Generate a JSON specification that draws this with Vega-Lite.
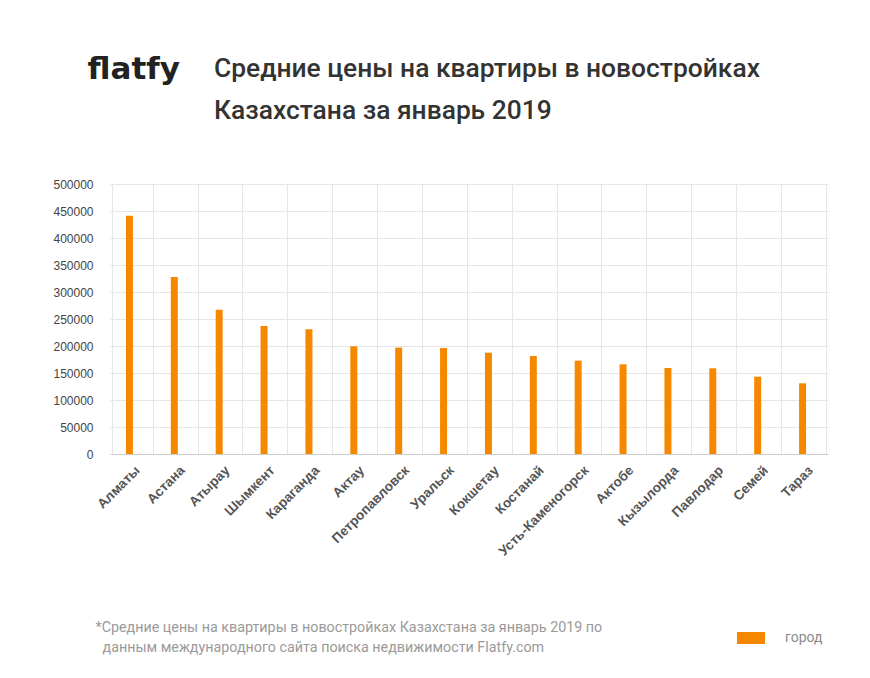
{
  "$schema": "https://vega.github.io/schema/vega-lite/v6.json",
  "width": 718,
  "height": 270,
  "autosize": "none",
  "padding": {"left": 110, "top": 184, "right": 42, "bottom": 224},
  "background": "white",
  "title": {
    "text": ["Средние цены на квартиры в новостройках", "Казахстана за январь 2019"],
    "anchor": "start",
    "dx": 161,
    "dy": 124,
    "offset": 53,
    "font": "Roboto",
    "fontSize": 26.4,
    "fontWeight": 500,
    "color": "#333333",
    "lineHeight": 42
  },
  "data": {
    "values": [
      {"city": "Алматы", "price": 441000},
      {"city": "Астана", "price": 328000},
      {"city": "Атырау", "price": 267000},
      {"city": "Шымкент", "price": 237000},
      {"city": "Караганда", "price": 231000},
      {"city": "Актау", "price": 199500},
      {"city": "Петропавловск", "price": 197000},
      {"city": "Уральск", "price": 196300},
      {"city": "Кокшетау", "price": 187600},
      {"city": "Костанай", "price": 181500},
      {"city": "Усть-Каменогорск", "price": 172800},
      {"city": "Актобе", "price": 166100},
      {"city": "Кызылорда", "price": 159300},
      {"city": "Павлодар", "price": 158700},
      {"city": "Семей", "price": 143200},
      {"city": "Тараз", "price": 130900}
    ]
  },
  "mark": {"type": "bar", "width": 7, "xOffset": -3},
  "encoding": {
    "x": {
      "field": "city",
      "type": "nominal",
      "sort": null,
      "axis": {
        "title": ["*Средние цены на квартиры в новостройках Казахстана за январь 2019 по", "\u200b\u00a0\u00a0данным международного сайта поиска недвижимости Flatfy.com"],
        "titleX": -15,
        "titleY": 166,
        "titleAnchor": "start",
        "titleAlign": "left",
        "titleBaseline": "top",
        "titleFont": "Roboto",
        "titleFontSize": 14.3,
        "titleFontWeight": "normal",
        "titleColor": "#9a9a9a",
        "titleLineHeight": 20,
        "labelAngle": -45,
        "labelFont": "Liberation Sans",
        "labelFontSize": 13.5,
        "labelFontWeight": "bold",
        "labelColor": "#555555",
        "labelPadding": 9,
        "ticks": false,
        "domainColor": "#cccccc",
        "grid": true,
        "tickBand": "extent",
        "gridColor": "#e6e6e6"
      }
    },
    "y": {
      "field": "price",
      "type": "quantitative",
      "scale": {"domain": [0, 500000]},
      "axis": {
        "title": "flatfy",
        "titleAngle": 0,
        "titleX": -23,
        "titleY": -115,
        "titleAlign": "left",
        "titleBaseline": "middle",
        "titleFont": "DejaVu Sans",
        "titleFontSize": 31,
        "titleFontWeight": "bold",
        "titleColor": "#222222",
        "tickCount": 10,
        "format": "d",
        "labelFont": "Liberation Sans",
        "labelFontSize": 12,
        "labelColor": "#444444",
        "labelPadding": 17,
        "ticks": false,
        "domain": false,
        "gridColor": "#e6e6e6"
      }
    },
    "color": {
      "datum": "город",
      "scale": {"range": ["#f68800"]},
      "legend": {
        "title": null,
        "orient": "none",
        "legendX": 629,
        "legendY": 442,
        "padding": 0,
        "symbolType": "M-1.17,-0.5L1.17,-0.5L1.17,0.5L-1.17,0.5Z",
        "symbolSize": 576,
        "symbolStrokeWidth": 0,
        "labelOffset": 22,
        "labelFont": "Roboto",
        "labelFontSize": 14,
        "labelColor": "#8a8a8a"
      }
    }
  },
  "config": {
    "view": {"stroke": null}
  }
}
